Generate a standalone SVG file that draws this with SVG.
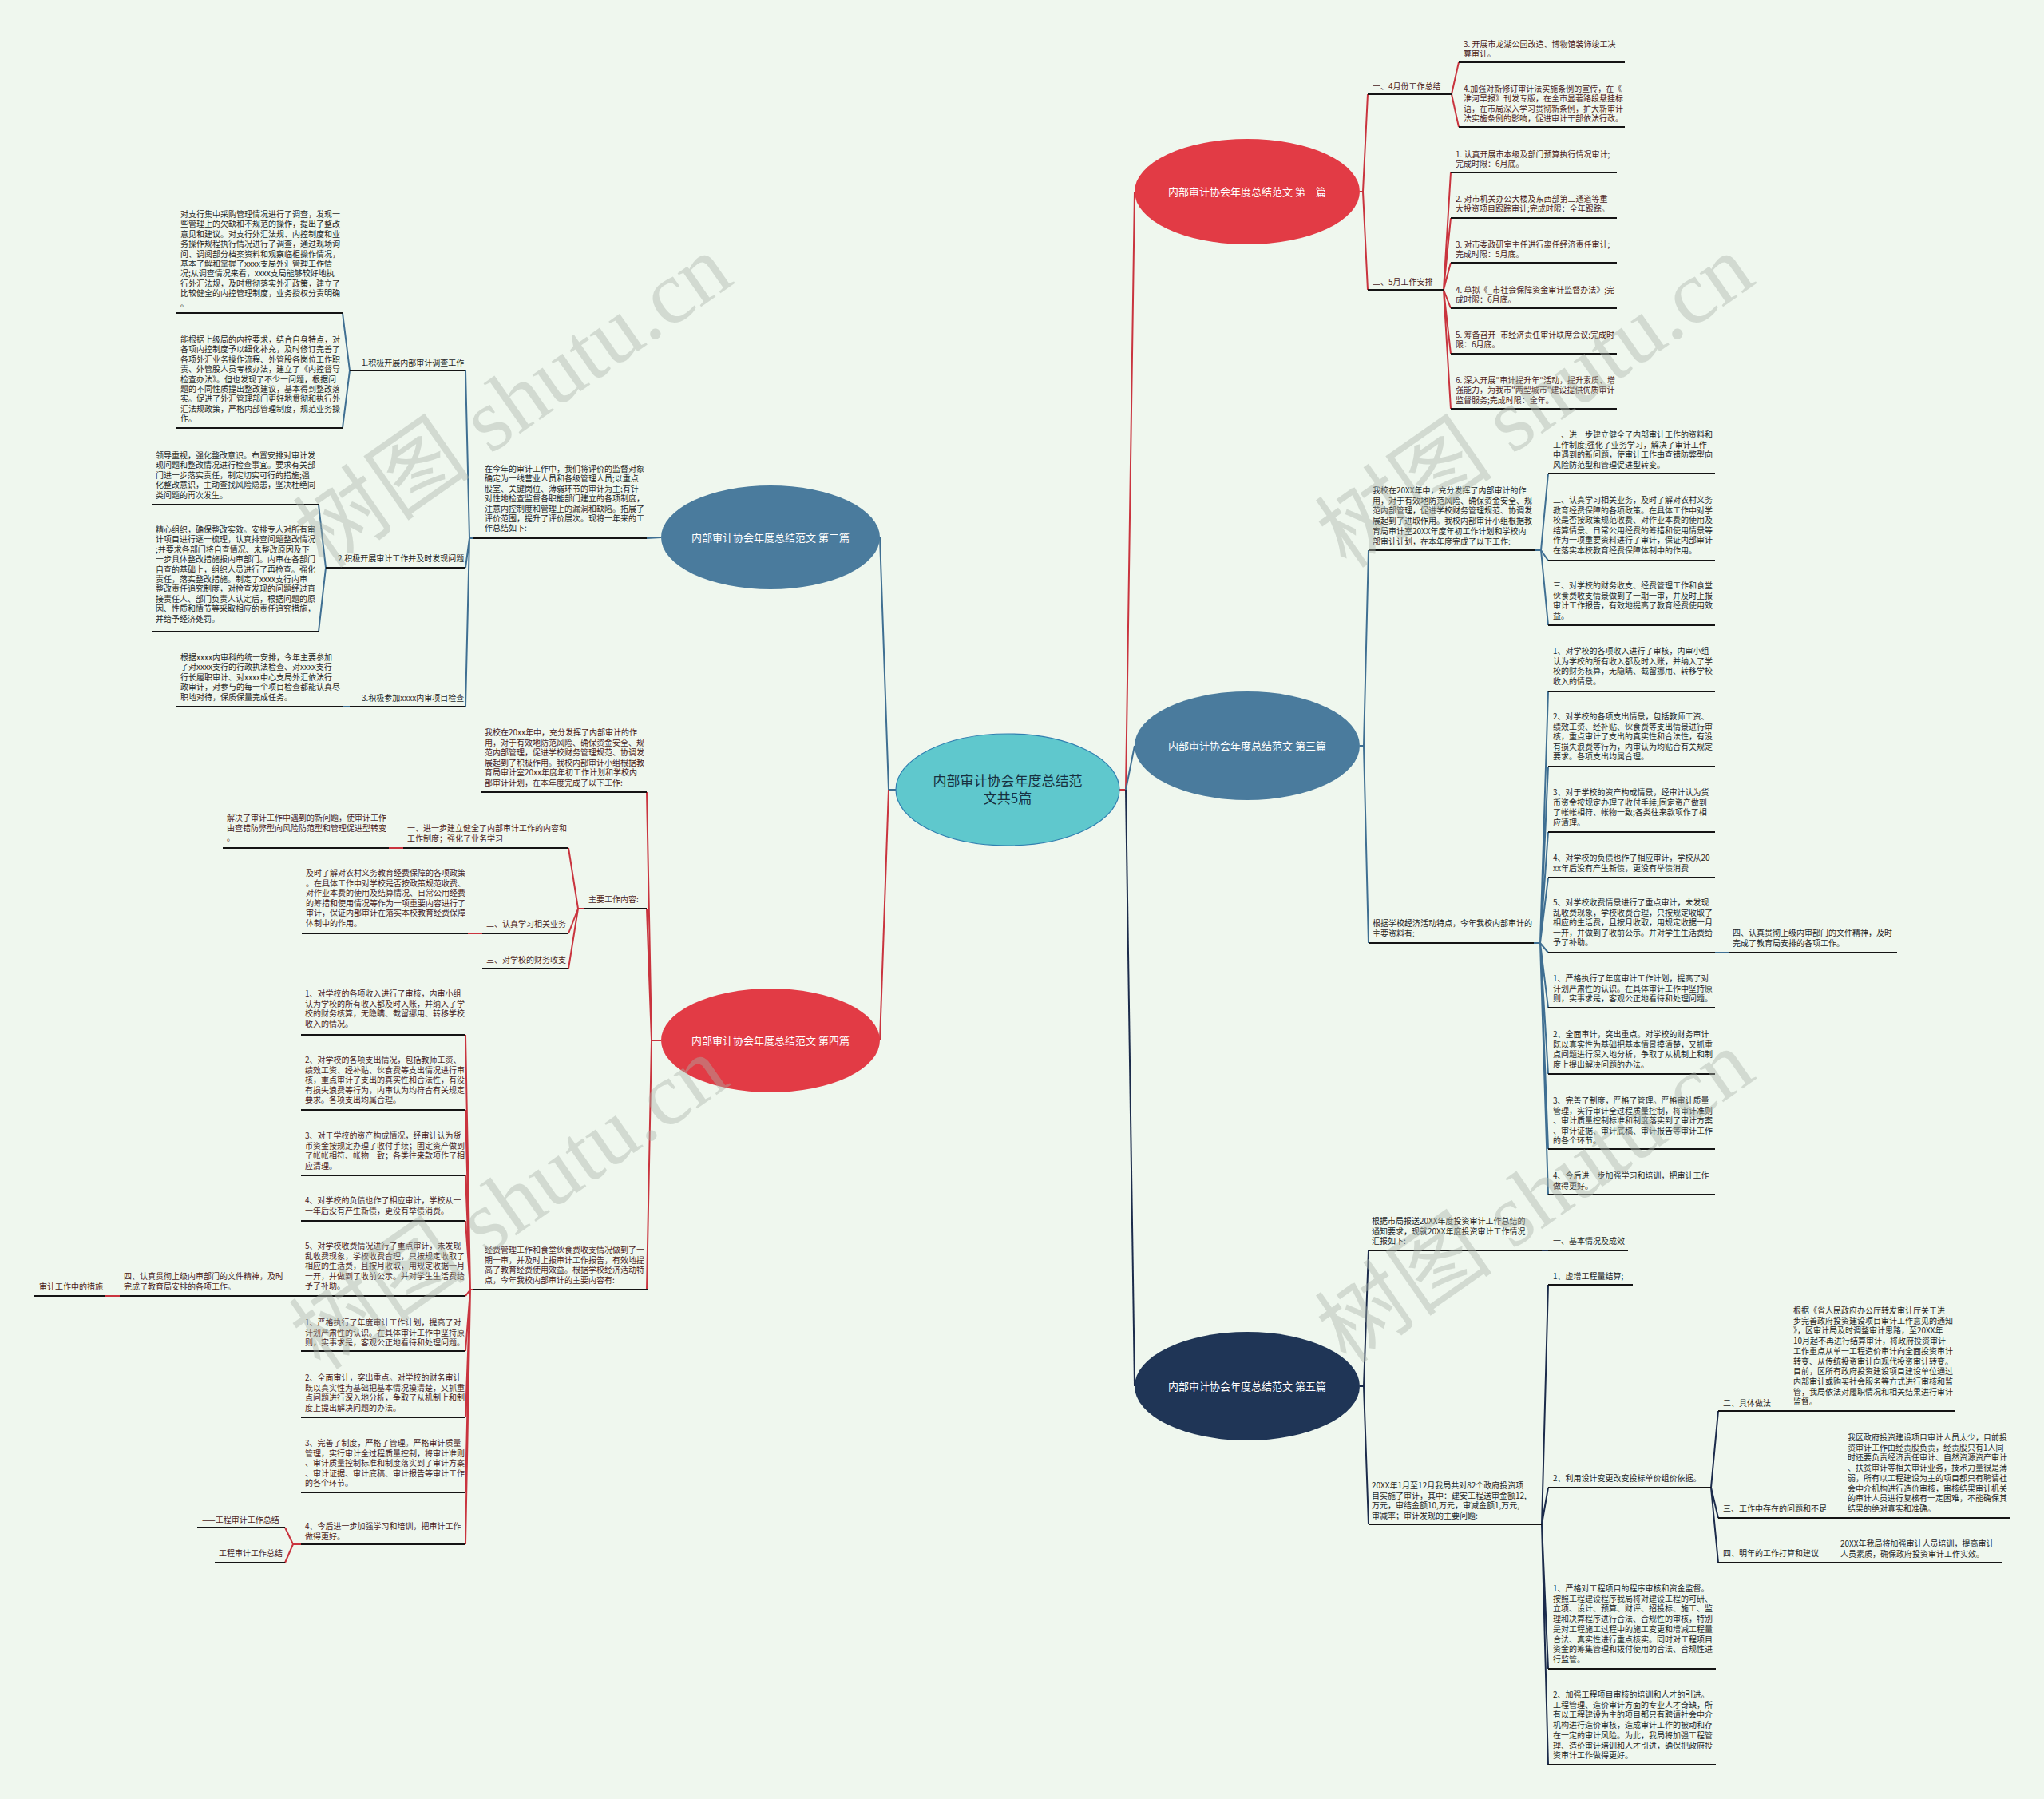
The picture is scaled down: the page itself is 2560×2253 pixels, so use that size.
<svg xmlns="http://www.w3.org/2000/svg" width="2560" height="2253" viewBox="0 0 2560 2253">
<style>
.t{font-family:"Noto Sans CJK SC","Liberation Sans",sans-serif;font-size:10px}
.r{fill:#4a1c1c}
.k{fill:#262626}
.u{stroke:#141414;stroke-width:2;fill:none}
.cr{stroke:#c9343e;stroke-width:2;fill:none}
.cb{stroke:#3f6f92;stroke-width:2;fill:none}
.cn{stroke:#1b2b4b;stroke-width:2;fill:none}
.nl{font-family:"Noto Sans CJK SC","Liberation Sans",sans-serif;font-size:13px;fill:#ffffff;text-anchor:middle}
.wm{font-family:"Liberation Serif","Noto Sans CJK SC",serif;font-size:112px;fill:#a9b2a9;fill-opacity:0.42;text-anchor:middle}
</style>
<rect x="0" y="0" width="2560" height="2253" fill="#eff7ee"/>

<g id="connectors">
<path class="cr" d="M1402 989 H1410 L1421 240"/>
<path class="cb" d="M1410 989 L1421 934"/>
<path class="cn" d="M1410 989 L1421 1736"/>
<path class="cb" d="M1122 989 H1113 L1102 673"/>
<path class="cr" d="M1113 989 L1102 1303"/>
<path class="cr" d="M1703 240 H1707 L1713 118 M1707 240 L1713 363"/>
<path class="cr" d="M1818 118 L1827 78 M1818 118 L1827 159"/>
<path class="cr" d="M1808 363 L1817 216 M1808 363 L1817 273 M1808 363 L1817 329 M1808 363 L1817 386 M1808 363 L1817 443 M1808 363 L1817 512"/>
<path class="cb" d="M1703 934 H1708 L1714 689 M1708 934 L1714 1181"/>
<path class="cb" d="M1923 689 H1930 L1939 593 M1930 689 L1939 702 M1930 689 L1939 783"/>
<path class="cb" d="M1921 1181 H1929 L1939 866 M1929 1181 L1939 960 M1929 1181 L1939 1042 M1929 1181 L1939 1099 M1929 1181 L1939 1193 M1929 1181 L1939 1262 M1929 1181 L1939 1345 M1929 1181 L1939 1439 M1929 1181 L1939 1496"/>
<path class="cb" d="M2148 1193 H2165"/>
<path class="cn" d="M1703 1736 H1708 L1714 1566 M1708 1736 L1714 1909"/>
<path class="cn" d="M1931 1566 H1939"/>
<path class="cn" d="M1931 1909 L1939 1609 M1931 1909 L1939 1863 M1931 1909 L1939 2090 M1931 1909 L1939 2210"/>
<path class="cn" d="M2143 1863 L2152 1767 M2143 1863 L2152 1901 M2143 1863 L2152 1957"/>
<path class="cb" d="M828 673 L810 674"/>
<path class="cb" d="M593 674 H588 L583 464 M588 674 L583 711 M588 674 L583 885"/>
<path class="cb" d="M438 464 L429 392 M438 464 L429 536"/>
<path class="cb" d="M408 711 L399 632 M408 711 L399 791"/>
<path class="cb" d="M438 885 H429"/>
<path class="cr" d="M828 1303 H816 L810 992 M816 1303 L810 1138 M816 1303 L810 1615"/>
<path class="cr" d="M731 1138 H724 L712 1062 M724 1138 L712 1169 M724 1138 L712 1213"/>
<path class="cr" d="M505 1062 H487 M604 1169 H586"/>
<path class="cr" d="M592 1615 H589 L583 1296 M589 1615 L583 1390 M589 1615 L583 1472 M589 1615 L583 1529 M589 1615 L583 1623 M589 1615 L583 1692 M589 1615 L583 1775 M589 1615 L583 1869 M589 1615 L583 1934"/>
<path class="cr" d="M150 1623 H131"/>
<path class="cr" d="M377 1934 H367 L357 1913 M367 1934 L357 1957"/>
</g>

<g id="underlines">
<path class="u" d="M1713 118 H1818 M1827 78 H2035 M1827 159 H2035 M1713 363 H1808"/>
<path class="u" d="M1817 216 H2025 M1817 273 H2025 M1817 329 H2025 M1817 386 H2025 M1817 443 H2025 M1817 512 H2025"/>
<path class="u" d="M1714 689 H1923 M1939 593 H2148 M1939 702 H2148 M1939 783 H2148"/>
<path class="u" d="M1714 1181 H1921 M1939 866 H2148 M1939 960 H2148 M1939 1042 H2148 M1939 1099 H2148 M1939 1193 H2148 M2165 1193 H2376 M1939 1262 H2148 M1939 1345 H2148 M1939 1439 H2148 M1939 1496 H2148"/>
<path class="u" d="M1714 1566 H1931 M1939 1566 H2039 M1714 1909 H1931 M1939 1609 H2045 M1939 1863 H2143 M2152 1767 H2449 M2152 1901 H2517 M2152 1957 H2508 M1939 2090 H2149 M1939 2210 H2149"/>
<path class="u" d="M593 674 H810 M438 464 H583 M221 392 H429 M221 536 H429 M408 711 H583 M190 632 H399 M190 791 H399 M438 885 H583 M221 885 H429"/>
<path class="u" d="M602 992 H810 M731 1138 H810 M505 1062 H712 M279 1062 H487 M604 1169 H712 M378 1169 H586 M604 1213 H712"/>
<path class="u" d="M592 1615 H811 M377 1296 H583 M377 1390 H583 M377 1472 H583 M377 1529 H583 M150 1623 H583 M43 1623 H131 M377 1692 H583 M377 1775 H583 M377 1869 H583 M377 1934 H583 M247 1913 H357 M269 1957 H357"/>
</g>

<g id="center">
<ellipse cx="1262" cy="989" rx="140" ry="70" fill="#5fc8cd" stroke="#2f7fb0" stroke-width="1.2"/>
<text x="1262" y="984" font-family="Noto Sans CJK SC, Liberation Sans, sans-serif" font-size="17" fill="#173040" text-anchor="middle">内部审计协会年度总结范</text>
<text x="1262" y="1006" font-family="Noto Sans CJK SC, Liberation Sans, sans-serif" font-size="17" fill="#173040" text-anchor="middle">文共5篇</text>
</g>

<g id="n1">
<ellipse cx="1562" cy="240" rx="141" ry="66" fill="#e23b45"/>
<text class="nl" x="1562" y="245">内部审计协会年度总结范文 第一篇</text>
</g>
<g id="n3">
<ellipse cx="1562" cy="934" rx="141" ry="68" fill="#4a7b9d"/>
<text class="nl" x="1562" y="939">内部审计协会年度总结范文 第三篇</text>
</g>
<g id="n5">
<ellipse cx="1562" cy="1736" rx="141" ry="68" fill="#1f3556"/>
<text class="nl" x="1562" y="1741">内部审计协会年度总结范文 第五篇</text>
</g>
<g id="n2">
<ellipse cx="965" cy="673" rx="137" ry="65" fill="#4a7b9d"/>
<text class="nl" x="965" y="678">内部审计协会年度总结范文 第二篇</text>
</g>
<g id="n4">
<ellipse cx="965" cy="1303" rx="137" ry="65" fill="#e23b45"/>
<text class="nl" x="965" y="1308">内部审计协会年度总结范文 第四篇</text>
</g>

<g id="n1-items">
<text class="t r" x="1719" y="112">一、4月份工作总结</text>
<text class="t r" x="1833" y="59"><tspan x="1833">3. 开展市龙湖公园改造、博物馆装饰竣工决</tspan><tspan x="1833" dy="12.4">算审计。</tspan></text>
<text class="t r" x="1833" y="115"><tspan x="1833">4.加强对新修订审计法实施条例的宣传，在《</tspan><tspan x="1833" dy="12.4">淮河早报》刊发专版，在全市显著路段悬挂标</tspan><tspan x="1833" dy="12.4">语，在市局深入学习贯彻新条例，扩大新审计</tspan><tspan x="1833" dy="12.4">法实施条例的影响，促进审计干部依法行政。</tspan></text>
<text class="t r" x="1719" y="357">二、5月工作安排</text>
<text class="t r" x="1823" y="197"><tspan x="1823">1. 认真开展市本级及部门预算执行情况审计;</tspan><tspan x="1823" dy="12.4">完成时限：6月底。</tspan></text>
<text class="t r" x="1823" y="253"><tspan x="1823">2. 对市机关办公大楼及东西部第二通道等重</tspan><tspan x="1823" dy="12.4">大投资项目跟踪审计;完成时限：全年跟踪。</tspan></text>
<text class="t r" x="1823" y="310"><tspan x="1823">3. 对市委政研室主任进行离任经济责任审计;</tspan><tspan x="1823" dy="12.4">完成时限：5月底。</tspan></text>
<text class="t r" x="1823" y="367"><tspan x="1823">4. 草拟《_市社会保障资金审计监督办法》;完</tspan><tspan x="1823" dy="12.4">成时限：6月底。</tspan></text>
<text class="t r" x="1823" y="423"><tspan x="1823">5. 筹备召开_市经济责任审计联席会议;完成时</tspan><tspan x="1823" dy="12.4">限：6月底。</tspan></text>
<text class="t r" x="1823" y="480"><tspan x="1823">6. 深入开展"审计提升年"活动，提升素质、增</tspan><tspan x="1823" dy="12.4">强能力，为我市"两型城市"建设提供优质审计</tspan><tspan x="1823" dy="12.4">监督服务;完成时限：全年。</tspan></text>
</g>

<g id="n3-items">
<text class="t k" x="1719" y="618"><tspan x="1719">我校在20XX年中，充分发挥了内部审计的作</tspan><tspan x="1719" dy="12.7">用，对于有效地防范风险、确保资金安全、规</tspan><tspan x="1719" dy="12.7">范内部管理，促进学校财务管理规范、协调发</tspan><tspan x="1719" dy="12.7">展起到了进取作用。我校内部审计小组根据教</tspan><tspan x="1719" dy="12.7">育局审计室20XX年度年初工作计划和学校内</tspan><tspan x="1719" dy="12.7">部审计计划，在本年度完成了以下工作:</tspan></text>
<text class="t k" x="1945" y="548"><tspan x="1945">一、进一步建立健全了内部审计工作的资料和</tspan><tspan x="1945" dy="12.6">工作制度;强化了业务学习，解决了审计工作</tspan><tspan x="1945" dy="12.6">中遇到的新问题，使审计工作由查错防弊型向</tspan><tspan x="1945" dy="12.6">风险防范型和管理促进型转变。</tspan></text>
<text class="t k" x="1945" y="630"><tspan x="1945">二、认真学习相关业务，及时了解对农村义务</tspan><tspan x="1945" dy="12.6">教育经费保障的各项政策。在具体工作中对学</tspan><tspan x="1945" dy="12.6">校是否按政策规范收费、对作业本费的使用及</tspan><tspan x="1945" dy="12.6">结算情景、日常公用经费的筹措和使用情景等</tspan><tspan x="1945" dy="12.6">作为一项重要资料进行了审计，保证内部审计</tspan><tspan x="1945" dy="12.6">在落实本校教育经费保障体制中的作用。</tspan></text>
<text class="t k" x="1945" y="737"><tspan x="1945">三、对学校的财务收支、经费管理工作和食堂</tspan><tspan x="1945" dy="12.6">伙食费收支情景做到了一期一审，并及时上报</tspan><tspan x="1945" dy="12.6">审计工作报告，有效地提高了教育经费使用效</tspan><tspan x="1945" dy="12.6">益。</tspan></text>
<text class="t k" x="1719" y="1160"><tspan x="1719">根据学校经济活动特点，今年我校内部审计的</tspan><tspan x="1719" dy="12.6">主要资料有:</tspan></text>
<text class="t k" x="1945" y="819"><tspan x="1945">1、对学校的各项收入进行了审核，内审小组</tspan><tspan x="1945" dy="12.6">认为学校的所有收入都及时入账，并纳入了学</tspan><tspan x="1945" dy="12.6">校的财务核算，无隐瞒、截留挪用、转移学校</tspan><tspan x="1945" dy="12.6">收入的情景。</tspan></text>
<text class="t k" x="1945" y="901"><tspan x="1945">2、对学校的各项支出情景，包括教师工资、</tspan><tspan x="1945" dy="12.6">绩效工资、经补贴、伙食费等支出情景进行审</tspan><tspan x="1945" dy="12.6">核，重点审计了支出的真实性和合法性，有没</tspan><tspan x="1945" dy="12.6">有损失浪费等行为，内审认为均贴合有关规定</tspan><tspan x="1945" dy="12.6">要求。各项支出均属合理。</tspan></text>
<text class="t k" x="1945" y="996"><tspan x="1945">3、对于学校的资产构成情景，经审计认为货</tspan><tspan x="1945" dy="12.6">币资金按规定办理了收付手续;固定资产做到</tspan><tspan x="1945" dy="12.6">了帐帐相符、帐物一致;各类往来款项作了相</tspan><tspan x="1945" dy="12.6">应清理。</tspan></text>
<text class="t k" x="1945" y="1078"><tspan x="1945">4、对学校的负债也作了相应审计，学校从20</tspan><tspan x="1945" dy="12.6">xx年后没有产生新债，更没有举债消费</tspan></text>
<text class="t k" x="1945" y="1134"><tspan x="1945">5、对学校收费情景进行了重点审计，未发现</tspan><tspan x="1945" dy="12.6">乱收费现象，学校收费合理，只按规定收取了</tspan><tspan x="1945" dy="12.6">相应的生活费，且按月收取，用规定收据一月</tspan><tspan x="1945" dy="12.6">一开，并做到了收前公示。并对学生生活费给</tspan><tspan x="1945" dy="12.6">予了补助。</tspan></text>
<text class="t k" x="2170" y="1172"><tspan x="2170">四、认真贯彻上级内审部门的文件精神，及时</tspan><tspan x="2170" dy="12.6">完成了教育局安排的各项工作。</tspan></text>
<text class="t k" x="1945" y="1229"><tspan x="1945">1、严格执行了年度审计工作计划，提高了对</tspan><tspan x="1945" dy="12.6">计划严肃性的认识。在具体审计工作中坚持原</tspan><tspan x="1945" dy="12.6">则，实事求是，客观公正地看待和处理问题。</tspan></text>
<text class="t k" x="1945" y="1299"><tspan x="1945">2、全面审计，突出重点。对学校的财务审计</tspan><tspan x="1945" dy="12.6">既以真实性为基础把基本情景摸清楚，又抓重</tspan><tspan x="1945" dy="12.6">点问题进行深入地分析，争取了从机制上和制</tspan><tspan x="1945" dy="12.6">度上提出解决问题的办法。</tspan></text>
<text class="t k" x="1945" y="1382"><tspan x="1945">3、完善了制度，严格了管理。严格审计质量</tspan><tspan x="1945" dy="12.6">管理，实行审计全过程质量控制，将审计准则</tspan><tspan x="1945" dy="12.6">、审计质量控制标准和制度落实到了审计方案</tspan><tspan x="1945" dy="12.6">、审计证据、审计底稿、审计报告等审计工作</tspan><tspan x="1945" dy="12.6">的各个环节。</tspan></text>
<text class="t k" x="1945" y="1476"><tspan x="1945">4、今后进一步加强学习和培训，把审计工作</tspan><tspan x="1945" dy="12.6">做得更好。</tspan></text>
</g>

<g id="n5-items">
<text class="t k" x="1718" y="1533"><tspan x="1718">根据市局报送20XX年度投资审计工作总结的</tspan><tspan x="1718" dy="12.7">通知要求，现就20XX年度投资审计工作情况</tspan><tspan x="1718" dy="12.7">汇报如下:</tspan></text>
<text class="t k" x="1945" y="1558">一、基本情况及成效</text>
<text class="t k" x="1718" y="1864"><tspan x="1718">20XX年1月至12月我局共对82个政府投资项</tspan><tspan x="1718" dy="12.7">目实施了审计，其中：建安工程送审金额12,</tspan><tspan x="1718" dy="12.7">万元，审结金额10,万元，审减金额1,万元,</tspan><tspan x="1718" dy="12.7">审减率；审计发现的主要问题:</tspan></text>
<text class="t k" x="1945" y="1602">1、虚增工程量结算;</text>
<text class="t k" x="1945" y="1855">2、利用设计变更改变投标单价组价依据。</text>
<text class="t k" x="2158" y="1761">二、具体做法</text>
<text class="t k" x="2246" y="1645"><tspan x="2246">根据《省人民政府办公厅转发审计厅关于进一</tspan><tspan x="2246" dy="12.7">步完善政府投资建设项目审计工作意见的通知</tspan><tspan x="2246" dy="12.7">》，区审计局及时调整审计思路，至20XX年</tspan><tspan x="2246" dy="12.7">10月起不再进行结算审计，将政府投资审计</tspan><tspan x="2246" dy="12.7">工作重点从单一工程造价审计向全面投资审计</tspan><tspan x="2246" dy="12.7">转变、从传统投资审计向现代投资审计转变。</tspan><tspan x="2246" dy="12.7">目前，区所有政府投资建设项目建设单位通过</tspan><tspan x="2246" dy="12.7">内部审计或购买社会服务等方式进行审核和监</tspan><tspan x="2246" dy="12.7">管，我局依法对履职情况和相关结果进行审计</tspan><tspan x="2246" dy="12.7">监督。</tspan></text>
<text class="t k" x="2158" y="1893">三、工作中存在的问题和不足</text>
<text class="t k" x="2314" y="1804"><tspan x="2314">我区政府投资建设项目审计人员太少，目前投</tspan><tspan x="2314" dy="12.7">资审计工作由经责股负责，经责股只有1人同</tspan><tspan x="2314" dy="12.7">时还要负责经济责任审计、自然资源资产审计</tspan><tspan x="2314" dy="12.7">、扶贫审计等相关审计业务，技术力量很是薄</tspan><tspan x="2314" dy="12.7">弱，所有以工程建设为主的项目都只有聘请社</tspan><tspan x="2314" dy="12.7">会中介机构进行造价审核，审核结果审计机关</tspan><tspan x="2314" dy="12.7">的审计人员进行复核有一定困难，不能确保其</tspan><tspan x="2314" dy="12.7">结果的绝对真实和准确。</tspan></text>
<text class="t k" x="2158" y="1949">四、明年的工作打算和建议</text>
<text class="t k" x="2305" y="1937"><tspan x="2305">20XX年我局将加强审计人员培训，提高审计</tspan><tspan x="2305" dy="12.7">人员素质，确保政府投资审计工作实效。</tspan></text>
<text class="t k" x="1945" y="1993"><tspan x="1945">1、严格对工程项目的程序审核和资金监督。</tspan><tspan x="1945" dy="12.7">按照工程建设程序我局将对建设工程的可研、</tspan><tspan x="1945" dy="12.7">立项、设计、预算、财评、招投标、施工、监</tspan><tspan x="1945" dy="12.7">理和决算程序进行合法、合规性的审核，特别</tspan><tspan x="1945" dy="12.7">是对工程施工过程中的施工变更和增减工程量</tspan><tspan x="1945" dy="12.7">合法、真实性进行重点核实。同时对工程项目</tspan><tspan x="1945" dy="12.7">资金的筹集管理和拨付使用的合法、合规性进</tspan><tspan x="1945" dy="12.7">行监管。</tspan></text>
<text class="t k" x="1945" y="2126"><tspan x="1945">2、加强工程项目审核的培训和人才的引进。</tspan><tspan x="1945" dy="12.7">工程管理、造价审计方面的专业人才奇缺，所</tspan><tspan x="1945" dy="12.7">有以工程建设为主的项目都只有聘请社会中介</tspan><tspan x="1945" dy="12.7">机构进行造价审核，造成审计工作的被动和存</tspan><tspan x="1945" dy="12.7">在一定的审计风险。为此，我局将加强工程管</tspan><tspan x="1945" dy="12.7">理、造价审计培训和人才引进，确保把政府投</tspan><tspan x="1945" dy="12.7">资审计工作做得更好。</tspan></text>
</g>

<g id="n2-items">
<text class="t k" x="607" y="591"><tspan x="607">在今年的审计工作中，我们将评价的监督对象</tspan><tspan x="607" dy="12.4">确定为一线营业人员和各级管理人员;以重点</tspan><tspan x="607" dy="12.4">股室、关键岗位、薄弱环节的审计为主;有针</tspan><tspan x="607" dy="12.4">对性地检查监督各职能部门建立的各项制度，</tspan><tspan x="607" dy="12.4">注意内控制度和管理上的漏洞和缺陷。拓展了</tspan><tspan x="607" dy="12.4">评价范围，提升了评价层次。现将一年来的工</tspan><tspan x="607" dy="12.4">作总结如下:</tspan></text>
<text class="t k" x="453" y="458">1.积极开展内部审计调查工作</text>
<text class="t k" x="226" y="272"><tspan x="226">对支行集中采购管理情况进行了调查，发现一</tspan><tspan x="226" dy="12.4">些管理上的欠缺和不规范的操作，提出了整改</tspan><tspan x="226" dy="12.4">意见和建议。对支行外汇法规、内控制度和业</tspan><tspan x="226" dy="12.4">务操作规程执行情况进行了调查，通过现场询</tspan><tspan x="226" dy="12.4">问、调阅部分档案资料和观察临柜操作情况，</tspan><tspan x="226" dy="12.4">基本了解和掌握了xxxx支局外汇管理工作情</tspan><tspan x="226" dy="12.4">况;从调查情况来看，xxxx支局能够较好地执</tspan><tspan x="226" dy="12.4">行外汇法规，及时贯彻落实外汇政策，建立了</tspan><tspan x="226" dy="12.4">比较健全的内控管理制度，业务授权分责明确</tspan><tspan x="226" dy="12.4">。</tspan></text>
<text class="t k" x="226" y="429"><tspan x="226">能根据上级局的内控要求，结合自身特点，对</tspan><tspan x="226" dy="12.4">各项内控制度予以细化补充，及时修订完善了</tspan><tspan x="226" dy="12.4">各项外汇业务操作流程、外管股各岗位工作职</tspan><tspan x="226" dy="12.4">责、外管股人员考核办法，建立了《内控督导</tspan><tspan x="226" dy="12.4">检查办法》。但也发现了不少一问题，根据问</tspan><tspan x="226" dy="12.4">题的不同性质提出整改建议，基本得到整改落</tspan><tspan x="226" dy="12.4">实。促进了外汇管理部门更好地贯彻和执行外</tspan><tspan x="226" dy="12.4">汇法规政策，严格内部管理制度，规范业务操</tspan><tspan x="226" dy="12.4">作。</tspan></text>
<text class="t k" x="423" y="703">2.积极开展审计工作并及时发现问题</text>
<text class="t k" x="195" y="574"><tspan x="195">领导重视，强化整改意识。布置安排对审计发</tspan><tspan x="195" dy="12.4">现问题和整改情况进行检查事宜。要求有关部</tspan><tspan x="195" dy="12.4">门进一步落实责任，制定切实可行的措施;强</tspan><tspan x="195" dy="12.4">化整改意识，主动查找风险隐患，坚决杜绝同</tspan><tspan x="195" dy="12.4">类问题的再次发生。</tspan></text>
<text class="t k" x="195" y="667"><tspan x="195">精心组织，确保整改实效。安排专人对所有审</tspan><tspan x="195" dy="12.4">计项目进行逐一梳理，认真排查问题整改情况</tspan><tspan x="195" dy="12.4">;并要求各部门将自查情况、未整改原因及下</tspan><tspan x="195" dy="12.4">一步具体整改措施报内审部门。内审在各部门</tspan><tspan x="195" dy="12.4">自查的基础上，组织人员进行了再检查。强化</tspan><tspan x="195" dy="12.4">责任，落实整改措施。制定了xxxx支行内审</tspan><tspan x="195" dy="12.4">整改责任追究制度，对检查发现的问题经过直</tspan><tspan x="195" dy="12.4">接责任人、部门负责人认定后，根据问题的原</tspan><tspan x="195" dy="12.4">因、性质和情节等采取相应的责任追究措施，</tspan><tspan x="195" dy="12.4">并给予经济处罚。</tspan></text>
<text class="t k" x="453" y="878">3.积极参加xxxx内审项目检查</text>
<text class="t k" x="226" y="827"><tspan x="226">根据xxxx内审科的统一安排，今年主要参加</tspan><tspan x="226" dy="12.4">了对xxxx支行的行政执法检查、对xxxx支行</tspan><tspan x="226" dy="12.4">行长履职审计、对xxxx中心支局外汇依法行</tspan><tspan x="226" dy="12.4">政审计，对参与的每一个项目检查都能认真尽</tspan><tspan x="226" dy="12.4">职地对待，保质保量完成任务。</tspan></text>
</g>

<g id="n4-items">
<text class="t r" x="607" y="921"><tspan x="607">我校在20xx年中，充分发挥了内部审计的作</tspan><tspan x="607" dy="12.6">用，对于有效地防范风险、确保资金安全、规</tspan><tspan x="607" dy="12.6">范内部管理，促进学校财务管理规范、协调发</tspan><tspan x="607" dy="12.6">展起到了积极作用。我校内部审计小组根据教</tspan><tspan x="607" dy="12.6">育局审计室20xx年度年初工作计划和学校内</tspan><tspan x="607" dy="12.6">部审计计划，在本年度完成了以下工作:</tspan></text>
<text class="t r" x="737" y="1130">主要工作内容:</text>
<text class="t r" x="510" y="1041"><tspan x="510">一、进一步建立健全了内部审计工作的内容和</tspan><tspan x="510" dy="12.6">工作制度；强化了业务学习</tspan></text>
<text class="t r" x="284" y="1028"><tspan x="284">解决了审计工作中遇到的新问题，使审计工作</tspan><tspan x="284" dy="12.6">由查错防弊型向风险防范型和管理促进型转变</tspan><tspan x="284" dy="12.6">。</tspan></text>
<text class="t r" x="609" y="1161">二、认真学习相关业务</text>
<text class="t r" x="383" y="1097"><tspan x="383">及时了解对农村义务教育经费保障的各项政策</tspan><tspan x="383" dy="12.6">。在具体工作中对学校是否按政策规范收费、</tspan><tspan x="383" dy="12.6">对作业本费的使用及结算情况、日常公用经费</tspan><tspan x="383" dy="12.6">的筹措和使用情况等作为一项重要内容进行了</tspan><tspan x="383" dy="12.6">审计，保证内部审计在落实本校教育经费保障</tspan><tspan x="383" dy="12.6">体制中的作用。</tspan></text>
<text class="t r" x="609" y="1206">三、对学校的财务收支</text>
<text class="t r" x="607" y="1569"><tspan x="607">经费管理工作和食堂伙食费收支情况做到了一</tspan><tspan x="607" dy="12.6">期一审，并及时上报审计工作报告，有效地提</tspan><tspan x="607" dy="12.6">高了教育经费使用效益。根据学校经济活动特</tspan><tspan x="607" dy="12.6">点，今年我校内部审计的主要内容有:</tspan></text>
<text class="t r" x="382" y="1248"><tspan x="382">1、对学校的各项收入进行了审核，内审小组</tspan><tspan x="382" dy="12.6">认为学校的所有收入都及时入账，并纳入了学</tspan><tspan x="382" dy="12.6">校的财务核算，无隐瞒、截留挪用、转移学校</tspan><tspan x="382" dy="12.6">收入的情况。</tspan></text>
<text class="t r" x="382" y="1331"><tspan x="382">2、对学校的各项支出情况，包括教师工资、</tspan><tspan x="382" dy="12.6">绩效工资、经补贴、伙食费等支出情况进行审</tspan><tspan x="382" dy="12.6">核，重点审计了支出的真实性和合法性，有没</tspan><tspan x="382" dy="12.6">有损失浪费等行为，内审认为均符合有关规定</tspan><tspan x="382" dy="12.6">要求。各项支出均属合理。</tspan></text>
<text class="t r" x="382" y="1426"><tspan x="382">3、对于学校的资产构成情况，经审计认为货</tspan><tspan x="382" dy="12.6">币资金按规定办理了收付手续；固定资产做到</tspan><tspan x="382" dy="12.6">了帐帐相符、帐物一致；各类往来款项作了相</tspan><tspan x="382" dy="12.6">应清理。</tspan></text>
<text class="t r" x="382" y="1507"><tspan x="382">4、对学校的负债也作了相应审计，学校从一</tspan><tspan x="382" dy="12.6">一年后没有产生新债，更没有举债消费。</tspan></text>
<text class="t r" x="382" y="1564"><tspan x="382">5、对学校收费情况进行了重点审计，未发现</tspan><tspan x="382" dy="12.6">乱收费现象，学校收费合理，只按规定收取了</tspan><tspan x="382" dy="12.6">相应的生活费，且按月收取，用规定收据一月</tspan><tspan x="382" dy="12.6">一开，并做到了收前公示。并对学生生活费给</tspan><tspan x="382" dy="12.6">予了补助。</tspan></text>
<text class="t r" x="155" y="1602"><tspan x="155">四、认真贯彻上级内审部门的文件精神，及时</tspan><tspan x="155" dy="12.6">完成了教育局安排的各项工作。</tspan></text>
<text class="t r" x="49" y="1615">审计工作中的措施</text>
<text class="t r" x="382" y="1660"><tspan x="382">1、严格执行了年度审计工作计划，提高了对</tspan><tspan x="382" dy="12.6">计划严肃性的认识。在具体审计工作中坚持原</tspan><tspan x="382" dy="12.6">则，实事求是，客观公正地看待和处理问题。</tspan></text>
<text class="t r" x="382" y="1729"><tspan x="382">2、全面审计，突出重点。对学校的财务审计</tspan><tspan x="382" dy="12.6">既以真实性为基础把基本情况摸清楚，又抓重</tspan><tspan x="382" dy="12.6">点问题进行深入地分析，争取了从机制上和制</tspan><tspan x="382" dy="12.6">度上提出解决问题的办法。</tspan></text>
<text class="t r" x="382" y="1811"><tspan x="382">3、完善了制度，严格了管理。严格审计质量</tspan><tspan x="382" dy="12.6">管理，实行审计全过程质量控制，将审计准则</tspan><tspan x="382" dy="12.6">、审计质量控制标准和制度落实到了审计方案</tspan><tspan x="382" dy="12.6">、审计证据、审计底稿、审计报告等审计工作</tspan><tspan x="382" dy="12.6">的各个环节。</tspan></text>
<text class="t r" x="382" y="1915"><tspan x="382">4、今后进一步加强学习和培训，把审计工作</tspan><tspan x="382" dy="12.6">做得更好。</tspan></text>
<text class="t r" x="253" y="1907">——工程审计工作总结</text>
<text class="t r" x="274" y="1949">工程审计工作总结</text>
</g>

<g id="watermarks">
<text class="wm" x="645" y="540" transform="rotate(-35 645 506)">树图 shutu.cn</text>
<text class="wm" x="1925" y="540" transform="rotate(-35 1925 506)">树图 shutu.cn</text>
<text class="wm" x="640" y="1544" transform="rotate(-35 640 1510)">树图 shutu.cn</text>
<text class="wm" x="1925" y="1536" transform="rotate(-35 1925 1502)">树图 shutu.cn</text>
</g>
</svg>
